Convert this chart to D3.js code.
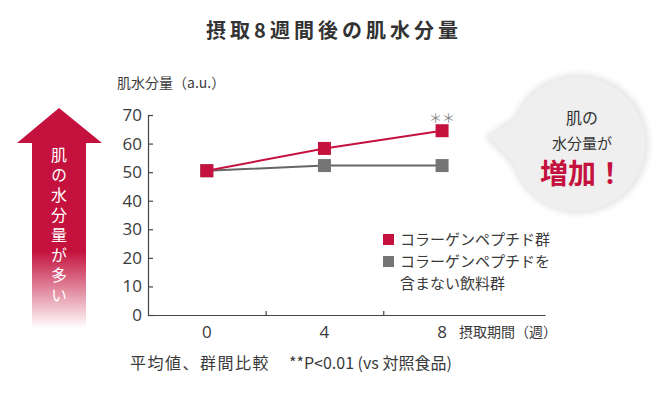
<!DOCTYPE html>
<html>
<head>
<meta charset="utf-8">
<script src="https://cdn.jsdelivr.net/npm/d3@7"></script>
<style>
  body { margin: 0; background: #fff; }
  svg { font-family: "Noto Sans CJK JP", "Noto Sans", sans-serif; }
</style>
</head>
<body>
<div id="chart"></div>
<script>
// データ
const weeks = [0, 4, 8];
const collagenValues = [50.5, 58.3, 64.5];
const controlValues = [50.5, 52.3, 52.3];
const yTicks = [0, 10, 20, 30, 40, 50, 60, 70];
const seriesNames = ["コラーゲンペプチド群", "コラーゲンペプチドを", "含まない飲料群"];

const width = 670, height = 400;
const red = "#c4113d", gray = "#757575", textColor = "#3a3a3a";

const svg = d3.select("#chart").append("svg")
    .attr("width", width).attr("height", height);

const defs = svg.append("defs");
const grad = defs.append("linearGradient").attr("id", "arrowGrad")
    .attr("x1", 0).attr("y1", 0).attr("x2", 0).attr("y2", 1);
grad.append("stop").attr("offset", "0%").attr("stop-color", red);
grad.append("stop").attr("offset", "65%").attr("stop-color", red);
grad.append("stop").attr("offset", "100%").attr("stop-color", red).attr("stop-opacity", 0);

const blur = defs.append("filter").attr("id", "soft")
    .attr("x", "-20%").attr("y", "-20%").attr("width", "140%").attr("height", "140%");
blur.append("feGaussianBlur").attr("stdDeviation", 3);

// タイトル
svg.append("text")
    .attr("x", 334).attr("y", 38)
    .attr("text-anchor", "middle")
    .style("font-size", "20px").style("font-weight", "bold")
    .style("fill", "#333").style("letter-spacing", "4px")
    .text("摂取8週間後の肌水分量");

// スケール
const x = d3.scaleLinear().domain([-2, 11.5]).range([148, 545]);
const y = d3.scaleLinear().domain([0, 70]).range([315, 115]);

// 矢印
svg.append("path")
    .attr("d", "M59,108 L102,143 L86,143 L86,328 L32,328 L32,143 L17,143 Z")
    .attr("fill", "url(#arrowGrad)");
svg.append("text")
    .attr("x", 59).attr("y", 147)
    .attr("writing-mode", "tb")
    .style("font-size", "16px").style("fill", "#fff")
    .style("letter-spacing", "4px")
    .text("肌の水分量が多い");

// 吹き出し
svg.append("path")
    .attr("d", "M485,137 L514,117 A70,70 0 1,1 512,165 Z")
    .attr("fill", "#e4e4e4").attr("filter", "url(#soft)");
svg.append("path")
    .attr("d", "M489,137 L516,119 A67,67 0 1,1 514,163 Z")
    .attr("fill", "#efefef");
svg.append("text").attr("x", 582).attr("y", 124).attr("text-anchor", "middle")
    .style("font-size", "16px").style("fill", "#333").text("肌の");
svg.append("text").attr("x", 582).attr("y", 149).attr("text-anchor", "middle")
    .style("font-size", "15px").style("fill", "#333").text("水分量が");
svg.append("text").attr("x", 582).attr("y", 184).attr("text-anchor", "middle")
    .style("font-size", "28px").style("font-weight", "bold").style("fill", red).text("増加！");

// 軸
const yAxis = svg.append("g").attr("transform", `translate(${x(-2)},0)`)
    .call(d3.axisLeft(y).tickValues(yTicks).tickSizeInner(-5).tickSizeOuter(0).tickPadding(6));
yAxis.selectAll("text").style("font-size", "17px").style("fill", textColor)
    .style("font-family", "'Open Sans', 'Noto Sans', sans-serif");
yAxis.selectAll("line, path").attr("stroke", "#444").attr("stroke-width", 1.2);

const xAxis = svg.append("g").attr("transform", `translate(0,${y(0)})`)
    .call(d3.axisBottom(x).tickValues([2, 6]).tickSizeInner(-4).tickSizeOuter(0).tickFormat(""));
xAxis.selectAll("line, path").attr("stroke", "#444").attr("stroke-width", 1.2);

svg.append("g").selectAll("text")
    .data(weeks).join("text")
    .attr("x", d => x(d)).attr("y", 338)
    .attr("text-anchor", "middle")
    .style("font-size", "17px").style("fill", textColor)
    .style("font-family", "'Open Sans', 'Noto Sans', sans-serif")
    .text(d => d);

svg.append("text").attr("x", 459).attr("y", 337)
    .style("font-size", "14px").style("fill", textColor).text("摂取期間（週）");

svg.append("text").attr("x", 117).attr("y", 88)
    .style("font-size", "14px").style("fill", textColor).text("肌水分量（a.u.）");

// 系列
const line = d3.line().x((d, i) => x(weeks[i])).y(d => y(d));
const series = [
    { values: controlValues, color: gray, lineColor: "#666" },
    { values: collagenValues, color: red, lineColor: red }
];
series.forEach(s => {
    svg.append("path").datum(s.values)
        .attr("d", line).attr("fill", "none")
        .attr("stroke", s.lineColor).attr("stroke-width", 2);
    svg.append("g").selectAll("rect")
        .data(s.values).join("rect")
        .attr("x", (d, i) => x(weeks[i]) - 6.5)
        .attr("y", d => y(d) - 6.5)
        .attr("width", 13).attr("height", 13)
        .attr("fill", s.color);
});

svg.append("text")
    .attr("x", x(8)).attr("y", y(collagenValues[2]) - 8)
    .attr("text-anchor", "middle")
    .style("font-size", "13px").style("fill", "#888").text("＊＊");

// 凡例
const legend = svg.append("g");
legend.append("rect").attr("x", 383).attr("y", 234).attr("width", 11).attr("height", 11).attr("fill", red);
legend.append("rect").attr("x", 383).attr("y", 256).attr("width", 11).attr("height", 11).attr("fill", gray);
legend.append("text").attr("x", 400).attr("y", 245)
    .style("font-size", "15px").style("fill", textColor).text(seriesNames[0]);
legend.append("text").attr("x", 400).attr("y", 267)
    .style("font-size", "15px").style("fill", textColor).text(seriesNames[1]);
legend.append("text").attr("x", 400).attr("y", 289)
    .style("font-size", "15px").style("fill", textColor).text(seriesNames[2]);

// 注釈
svg.append("text").attr("x", 130).attr("y", 369)
    .style("font-size", "16px").style("fill", textColor).style("letter-spacing", "1.5px")
    .text("平均値、群間比較");
svg.append("text").attr("x", 289).attr("y", 369)
    .style("font-size", "16px").style("fill", textColor)
    .text("**P<0.01 (vs 対照食品)");
</script>
</body>
</html>
